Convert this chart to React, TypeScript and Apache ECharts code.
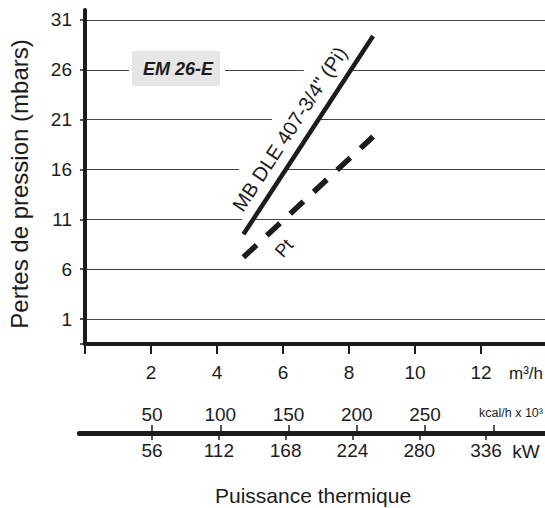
import React, { useEffect, useRef } from "react";
import * as echarts from "echarts";

// Axis ticks / labels
const pressureTicks = [1, 6, 11, 16, 21, 26, 31];
const flowTicks = [2, 4, 6, 8, 10, 12];
const kcalLabels = [50, 100, 150, 200, 250];
const kcalTickMarks = [50, 100, 150, 200, 250, 300];
const kwTicks = [56, 112, 168, 224, 280, 336];

// Series: MB DLE 407-3/4" (Pi) and Pt  (flow m3/h -> pressure mbar)
const piFlow = [4.8, 8.73];
const piPressure = [9.5, 29.4];
const ptFlow = [4.8, 8.73];
const ptPressure = [7.2, 19.3];

const FONT = "'Liberation Sans', Arial, sans-serif";
const INK = "#1c1c1c";

export default function App() {
  const ref = useRef<HTMLDivElement>(null);

  useEffect(() => {
    const chart = echarts.init(ref.current!, null, { renderer: "svg" });
    const labelStyle = { fontSize: 19, color: INK, fontFamily: FONT };
    const option: any = {
      animation: false,
      grid: [
        { left: 85, right: 0, top: 10, height: 334 },
        { left: 79, right: 0, top: 433, height: 1 },
      ],
      xAxis: [
        {
          gridIndex: 0,
          type: "value",
          position: "bottom",
          min: 0,
          max: 13.94,
          axisLine: { show: true, onZero: false, lineStyle: { color: INK, width: 4 } },
          axisTick: { show: true, customValues: [0, ...flowTicks], length: 10, lineStyle: { color: INK, width: 2 } },
          axisLabel: { customValues: flowTicks, margin: 19, ...labelStyle },
          splitLine: { show: false },
        },
        {
          gridIndex: 1,
          type: "value",
          position: "top",
          min: -3.48,
          max: 337.9,
          axisLine: { show: true, onZero: false, lineStyle: { color: INK, width: 4 } },
          axisTick: { show: true, customValues: kcalTickMarks, length: 8, lineStyle: { color: INK, width: 1.5 } },
          axisLabel: { customValues: kcalLabels, margin: 9, ...labelStyle },
          splitLine: { show: false },
        },
        {
          gridIndex: 1,
          type: "value",
          position: "bottom",
          min: -5.2,
          max: 385.4,
          axisLine: { show: true, onZero: false, lineStyle: { color: INK, width: 4 } },
          axisTick: { show: true, customValues: kwTicks, length: 6, lineStyle: { color: INK, width: 1.5 } },
          axisLabel: { customValues: kwTicks, margin: 7, ...labelStyle },
          splitLine: { show: false },
        },
      ],
      yAxis: [
        {
          gridIndex: 0,
          type: "value",
          min: -1.5,
          max: 32,
          axisLine: { show: true, onZero: false, lineStyle: { color: INK, width: 4 } },
          axisTick: { show: true, customValues: [-1.5, ...pressureTicks], length: 5, lineStyle: { color: INK, width: 1.5 } },
          axisLabel: { customValues: pressureTicks, margin: 13, ...labelStyle },
          splitLine: { show: true, lineStyle: { color: "#444", width: 1 } },
        },
        { gridIndex: 1, type: "value", show: false, min: 0, max: 1 },
      ],
      series: [
        {
          type: "line",
          xAxisIndex: 0,
          yAxisIndex: 0,
          data: piFlow.map((x, i) => [x, piPressure[i]]),
          symbol: "none",
          z: 3,
          lineStyle: { color: INK, width: 4.5, cap: "butt" },
        },
        {
          type: "line",
          xAxisIndex: 0,
          yAxisIndex: 0,
          data: ptFlow.map((x, i) => [x, ptPressure[i]]),
          symbol: "none",
          z: 3,
          lineStyle: { color: INK, width: 5.5, type: [18, 14], cap: "butt" },
        },
      ],
    };
    chart.setOption(option);

    const toPx = (x: number, y: number) =>
      chart.convertToPixel({ xAxisIndex: 0, yAxisIndex: 0 }, [x, y]) as number[];

    const a0 = toPx(piFlow[0], piPressure[0]);
    const a1 = toPx(piFlow[1], piPressure[1]);
    const adx = a1[0] - a0[0];
    const ady = a1[1] - a0[1];
    const alen = Math.hypot(adx, ady);
    const adir = [adx / alen, ady / alen];
    const anorm = [ady / alen, -adx / alen]; // up-left
    const amid = [(a0[0] + a1[0]) / 2, (a0[1] + a1[1]) / 2];
    const piLabelPos = [amid[0] + 19 * anorm[0] - 5 * adir[0], amid[1] + 19 * anorm[1] - 5 * adir[1]];
    const piRot = Math.atan2(-ady, adx);

    const b0 = toPx(ptFlow[0], ptPressure[0]);
    const b1 = toPx(ptFlow[1], ptPressure[1]);
    const bdx = b1[0] - b0[0];
    const bdy = b1[1] - b0[1];
    const blen = Math.hypot(bdx, bdy);
    const bdir = [bdx / blen, bdy / blen];
    const bnorm = [-bdy / blen, bdx / blen]; // down-right
    const ptLabelPos = [b0[0] + 36 * bdir[0] + 21 * bnorm[0], b0[1] + 36 * bdir[1] + 21 * bnorm[1]];
    const ptRot = Math.atan2(-bdy, bdx) + 0.1;

    chart.setOption({
      graphic: [
        {
          type: "text",
          z: 1,
          x: piLabelPos[0],
          y: piLabelPos[1],
          rotation: piRot,
          style: {
            text: 'MB DLE 407-3/4" (Pi)',
            fill: INK,
            fontSize: 20,
            fontFamily: FONT,
            align: "center",
            verticalAlign: "middle",
            backgroundColor: "#fff",
            padding: [10, 6, 10, 6],
          },
        },
        {
          type: "text",
          z: 1,
          x: ptLabelPos[0],
          y: ptLabelPos[1],
          rotation: ptRot,
          style: {
            text: "Pt",
            fill: INK,
            fontSize: 18,
            fontFamily: FONT,
            align: "center",
            verticalAlign: "middle",
          },
        },
        { type: "rect", z: 1, shape: { x: 129, y: 48, width: 96, height: 41 }, style: { fill: "#fff" } },
        { type: "rect", z: 1, shape: { x: 132, y: 51, width: 88, height: 35 }, style: { fill: "#e6e6e6" } },
        {
          type: "text",
          z: 1,
          x: 178,
          y: 69,
          style: {
            text: "EM 26-E",
            fill: INK,
            fontSize: 18,
            fontWeight: "bold",
            fontStyle: "italic",
            fontFamily: FONT,
            align: "center",
            verticalAlign: "middle",
          },
        },
        {
          type: "text",
          x: 19,
          y: 184,
          rotation: Math.PI / 2,
          style: {
            text: "Pertes de pression (mbars)",
            fill: INK,
            fontSize: 24,
            fontFamily: FONT,
            align: "center",
            verticalAlign: "middle",
          },
        },
        {
          type: "text",
          x: 313,
          y: 495,
          style: {
            text: "Puissance thermique",
            fill: INK,
            fontSize: 21,
            fontFamily: FONT,
            align: "center",
            verticalAlign: "middle",
          },
        },
        {
          type: "text",
          x: 526,
          y: 373,
          style: { text: "m³/h", fill: INK, fontSize: 17, fontFamily: FONT, align: "center", verticalAlign: "middle" },
        },
        {
          type: "text",
          x: 511,
          y: 413,
          style: { text: "kcal/h x 10³", fill: INK, fontSize: 12.5, fontFamily: FONT, align: "center", verticalAlign: "middle" },
        },
        {
          type: "text",
          x: 526,
          y: 451,
          style: { text: "kW", fill: INK, fontSize: 19, fontFamily: FONT, align: "center", verticalAlign: "middle" },
        },
      ],
    });

    return () => chart.dispose();
  }, []);

  return (
    <div
      ref={ref}
      style={{ position: "fixed", left: 0, top: 0, width: 545, height: 508, background: "#fff" }}
    />
  );
}
